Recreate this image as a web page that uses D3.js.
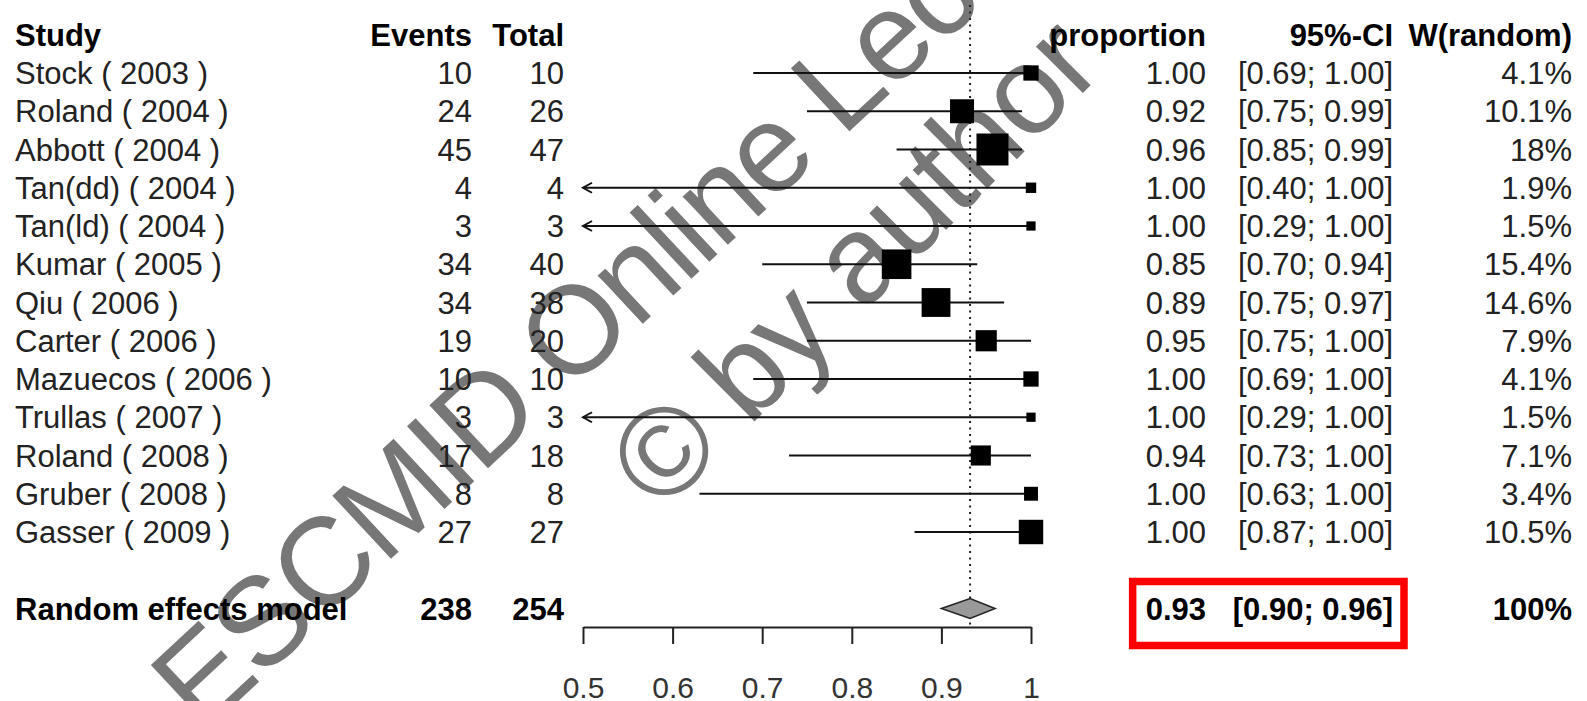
<!DOCTYPE html>
<html>
<head>
<meta charset="utf-8">
<script src="https://cdn.jsdelivr.net/npm/d3@7"></script>
<style>
  body { margin: 0; background: #fff; }
  svg { display: block; font-family: "Liberation Sans", Arial, sans-serif; }
</style>
</head>
<body>
<div id="container"></div>
<script>
// study data
var studies = ["Stock ( 2003 )", "Roland ( 2004 )", "Abbott ( 2004 )", "Tan(dd) ( 2004 )",
  "Tan(ld) ( 2004 )", "Kumar ( 2005 )", "Qiu ( 2006 )", "Carter ( 2006 )",
  "Mazuecos ( 2006 )", "Trullas ( 2007 )", "Roland ( 2008 )", "Gruber ( 2008 )", "Gasser ( 2009 )"];
var events = [10, 24, 45, 4, 3, 34, 34, 19, 10, 3, 17, 8, 27];
var totals = [10, 26, 47, 4, 3, 40, 38, 20, 10, 3, 18, 8, 27];
var estimate = [1.00, 0.923, 0.957, 1.00, 1.00, 0.85, 0.894, 0.95, 1.00, 1.00, 0.944, 1.00, 1.00];
var lower = [0.69, 0.75, 0.85, 0.40, 0.29, 0.70, 0.75, 0.75, 0.69, 0.29, 0.73, 0.63, 0.87];
var upper = [1.00, 0.99, 0.99, 1.00, 1.00, 0.94, 0.97, 1.00, 1.00, 1.00, 1.00, 1.00, 1.00];
var weights = [4.1, 10.1, 18, 1.9, 1.5, 15.4, 14.6, 7.9, 4.1, 1.5, 7.1, 3.4, 10.5];

// random effects model
var sumLabel = "Random effects model";
var sumEvents = 238, sumTotal = 254;
var sumEstimate = 0.932, sumLower = 0.90, sumUpper = 0.96, sumWeight = 100;

var headers = ["Study", "Events", "Total", "proportion", "95%-CI", "W(random)"];
var ticks = [0.5, 0.6, 0.7, 0.8, 0.9, 1];

var width = 1587, height = 701;
var fontSize = 31;

var svg = d3.select("#container")
  .append("svg")
  .attr("width", width)
  .attr("height", height);

// watermark sits under the plot
var wm = svg.append("g")
  .attr("fill", "#777")
  .attr("font-size", 125);
wm.append("text")
  .attr("transform", "translate(202,735) rotate(-43)")
  .attr("letter-spacing", -3)
  .text("ESCMID Online Lecture Library");
wm.append("text")
  .attr("transform", "translate(662,514) rotate(-45)")
  .attr("letter-spacing", -2)
  .text("\u00a9 by author");

// scales
var x = d3.scaleLinear().domain([0.5, 1]).range([583, 1031]);
var y = d3.scaleLinear().domain([0, 12]).range([73, 532]);
var size = d3.scaleSqrt().domain([0, 18]).range([0, 32]);
var fmt = d3.format(".2f");
var axisY = 627;
var headY = y(-1), sumY = y(14);

var rows = d3.range(studies.length);

// text columns
var cols = [
  { x: 15, anchor: "start", text: function (i) { return studies[i]; }, sum: sumLabel },
  { x: 472, anchor: "end", text: function (i) { return events[i]; }, sum: sumEvents },
  { x: 564, anchor: "end", text: function (i) { return totals[i]; }, sum: sumTotal },
  { x: 1206, anchor: "end", text: function (i) { return fmt(estimate[i]); }, sum: fmt(sumEstimate), boxed: true },
  { x: 1393, anchor: "end", text: function (i) { return "[" + fmt(lower[i]) + "; " + fmt(upper[i]) + "]"; },
    sum: "[" + fmt(sumLower) + "; " + fmt(sumUpper) + "]", boxed: true },
  { x: 1572, anchor: "end", text: function (i) { return weights[i] + "%"; }, sum: sumWeight + "%" }
];

var table = svg.append("g").attr("font-size", fontSize);

cols.forEach(function (c, k) {
  table.append("text")
    .attr("x", c.x).attr("y", headY).attr("dy", "0.36em")
    .attr("text-anchor", c.anchor)
    .attr("font-weight", "bold")
    .attr("fill", "#000")
    .text(headers[k]);

  table.selectAll(null)
    .data(rows)
    .enter().append("text")
    .attr("x", c.x)
    .attr("y", function (i) { return y(i); })
    .attr("dy", "0.36em")
    .attr("text-anchor", c.anchor)
    .attr("fill", "#222")
    .text(c.text);

  table.append("text")
    .attr("class", c.boxed ? "boxed" : null)
    .attr("x", c.x).attr("y", sumY).attr("dy", "0.36em")
    .attr("text-anchor", c.anchor)
    .attr("font-weight", "bold")
    .attr("fill", "#000")
    .text(c.sum);
});

// red box round the pooled estimate
var boxes = table.selectAll("text.boxed").nodes().map(function (n) { return n.getBBox(); });
var bx0 = d3.min(boxes, function (b) { return b.x; }) - 13;
var bx1 = d3.max(boxes, function (b) { return b.x + b.width; }) + 11;
svg.append("rect")
  .attr("x", bx0).attr("y", sumY - 27)
  .attr("width", bx1 - bx0).attr("height", 64)
  .attr("fill", "none")
  .attr("stroke", "#f00")
  .attr("stroke-width", 7.5);

var plot = svg.append("g");

// reference line at the pooled estimate
plot.append("line")
  .attr("x1", x(sumEstimate)).attr("x2", x(sumEstimate))
  .attr("y1", 5).attr("y2", axisY)
  .attr("stroke", "#222")
  .attr("stroke-width", 2)
  .attr("stroke-dasharray", "2,4.5");

// confidence intervals
plot.selectAll(".ci")
  .data(rows)
  .enter().append("line")
  .attr("class", "ci")
  .attr("x1", function (i) { return x(Math.max(lower[i], 0.5)); })
  .attr("x2", function (i) { return x(Math.min(upper[i], 1)); })
  .attr("y1", function (i) { return y(i); })
  .attr("y2", function (i) { return y(i); })
  .attr("stroke", "#111")
  .attr("stroke-width", 2);

// arrows where the interval runs off the axis
plot.selectAll(".arrow")
  .data(rows.filter(function (i) { return lower[i] < 0.5; }))
  .enter().append("path")
  .attr("class", "arrow")
  .attr("d", function (i) {
    var x0 = x(0.5), y0 = y(i);
    return "M" + (x0 + 9) + "," + (y0 - 5) + "L" + x0 + "," + y0 + "L" + (x0 + 9) + "," + (y0 + 5);
  })
  .attr("fill", "none")
  .attr("stroke", "#111")
  .attr("stroke-width", 2);

// weight squares
plot.selectAll(".sq")
  .data(rows)
  .enter().append("rect")
  .attr("class", "sq")
  .attr("x", function (i) { return x(estimate[i]) - size(weights[i]) / 2; })
  .attr("y", function (i) { return y(i) - size(weights[i]) / 2; })
  .attr("width", function (i) { return size(weights[i]); })
  .attr("height", function (i) { return size(weights[i]); })
  .attr("fill", "#000");

// pooled diamond
plot.append("path")
  .attr("d", "M" + x(sumLower) + "," + sumY +
    "L" + x(sumEstimate) + "," + (sumY - 10) +
    "L" + x(sumUpper) + "," + sumY +
    "L" + x(sumEstimate) + "," + (sumY + 10) + "Z")
  .attr("fill", "#999")
  .attr("stroke", "#222")
  .attr("stroke-width", 1.5);

// x axis
var xAxis = d3.axisBottom(x)
  .tickValues(ticks)
  .tickSize(17)
  .tickSizeOuter(0)
  .tickPadding(33)
  .tickFormat(d3.format("~g"));

var ax = svg.append("g")
  .attr("transform", "translate(0," + axisY + ")")
  .call(xAxis);
ax.select(".domain").attr("stroke", "#222").attr("stroke-width", 2);
ax.selectAll(".tick line").attr("stroke", "#222").attr("stroke-width", 2);
ax.selectAll(".tick text")
  .attr("font-family", "Liberation Sans, Arial, sans-serif")
  .attr("font-size", 30)
  .attr("fill", "#333");
</script>
</body>
</html>
